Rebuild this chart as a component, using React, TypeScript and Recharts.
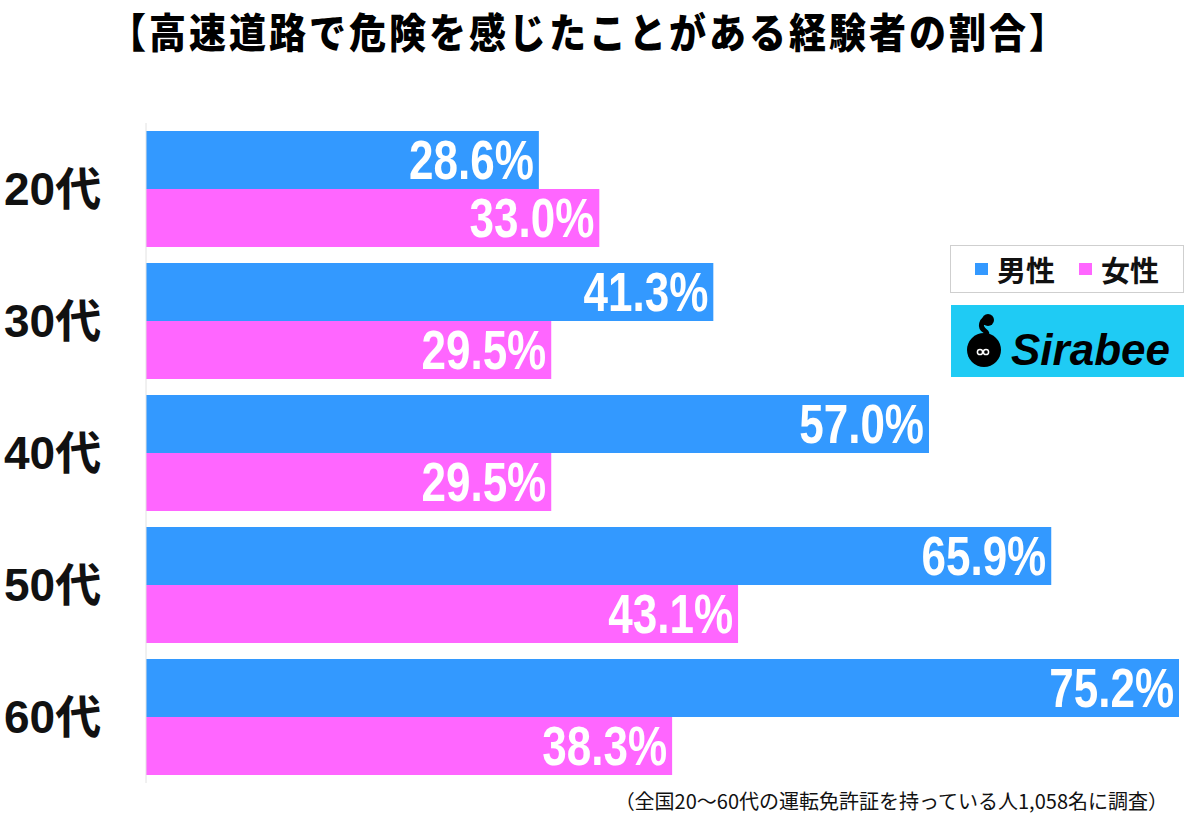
import { BarChart, Bar, XAxis, YAxis, LabelList } from 'recharts';

const AGE_GROUPS = ['20代', '30代', '40代', '50代', '60代'];
const MALE = [28.6, 41.3, 57.0, 65.9, 75.2];
const FEMALE = [33.0, 29.5, 29.5, 43.1, 38.3];
const SERIES_NAMES = ['男性', '女性'];

const TITLE = '【高速道路で危険を感じたことがある経験者の割合】';
const NOTE = '（全国20〜60代の運転免許証を持っている人1,058名に調査）';

const BLUE = '#3399FF';
const PINK = '#FF66FF';
const LOGO_BG = '#1FCBF4';
const SANS = '"Liberation Sans", "Noto Sans CJK JP", sans-serif';
const JP = '"Noto Sans CJK JP", sans-serif';

const data = AGE_GROUPS.map((name, i) => ({ name, male: MALE[i], female: FEMALE[i] }));

function ValueLabel(props: any) {
  const { x, y, width, height, value } = props;
  const cx = x + width - 5;
  const cy = y + height / 2;
  return (
    <text
      x={cx}
      y={cy}
      textAnchor="end"
      dominantBaseline="central"
      fill="#fff"
      fontFamily={SANS}
      fontWeight={700}
      fontSize={44}
      transform={`translate(0 ${cy}) scale(1 1.25) translate(0 ${-cy})`}
    >
      {Number(value).toFixed(1)}%
    </text>
  );
}

function AgeTick(props: any) {
  const { y, payload } = props;
  return (
    <text
      x={4}
      y={y}
      dominantBaseline="central"
      fill="#111"
      fontFamily={SANS}
      fontWeight={700}
      fontSize={46}
    >
      {payload.value}
    </text>
  );
}

function LegendBox() {
  const colors = [BLUE, PINK];
  return (
    <div
      style={{
        position: 'absolute',
        left: 950,
        top: 245,
        width: 232,
        height: 46,
        border: '1px solid #cfcfcf',
        display: 'flex',
        alignItems: 'center',
        justifyContent: 'center',
        gap: 24,
        background: '#fff',
      }}
    >
      {SERIES_NAMES.map((name, i) => (
        <div key={name} style={{ display: 'flex', alignItems: 'center', gap: 9 }}>
          <span style={{ width: 13, height: 12, background: colors[i], display: 'inline-block' }} />
          <span style={{ fontFamily: JP, fontWeight: 700, fontSize: 29, color: '#111', lineHeight: 1 }}>
            {name}
          </span>
        </div>
      ))}
    </div>
  );
}

export default function App() {
  return (
    <div style={{ position: 'relative', width: 1200, height: 819, background: '#fff', overflow: 'hidden' }}>
      <style>{'body{margin:0}'}</style>
      <div
        style={{
          position: 'absolute',
          left: 0,
          width: 1178,
          top: 0,
          height: 60,
          lineHeight: '60px',
          textAlign: 'center',
          fontFamily: JP,
          fontWeight: 900,
          fontSize: 37,
          letterSpacing: 3,
          color: '#000',
          transform: 'scaleY(1.1)',
          whiteSpace: 'nowrap',
        }}
      >
        {TITLE}
      </div>

      <BarChart
        width={1200}
        height={819}
        data={data}
        layout="vertical"
        margin={{ top: 123, right: 21, bottom: 36, left: 0 }}
        barGap={0}
        barCategoryGap={16}
      >
        <XAxis type="number" hide domain={[0, 75.2]} />
        <YAxis
          type="category"
          dataKey="name"
          width={146}
          axisLine={{ stroke: '#e2e2e2' }}
          tickLine={false}
          tick={<AgeTick />}
        />
        <Bar dataKey="male" name={SERIES_NAMES[0]} fill={BLUE} barSize={58} isAnimationActive={false}>
          <LabelList dataKey="male" content={<ValueLabel />} />
        </Bar>
        <Bar dataKey="female" name={SERIES_NAMES[1]} fill={PINK} barSize={58} isAnimationActive={false}>
          <LabelList dataKey="female" content={<ValueLabel />} />
        </Bar>
      </BarChart>

      <LegendBox />

      <div
        style={{
          position: 'absolute',
          left: 951,
          top: 305,
          width: 233,
          height: 72,
          background: LOGO_BG,
        }}
      >
        <svg width={233} height={72} style={{ position: 'absolute', left: 0, top: 0 }}>
          <path d="M37 14 C30 14 28 22 34 26 C40 30 30 34 26 38" fill="none" stroke="#000" strokeWidth={5} strokeLinecap="round" />
          <circle cx={37} cy={15} r={6} fill="#000" />
          <circle cx={33} cy={45} r={17} fill="#000" />
          <circle cx={29} cy={47} r={2.6} fill="none" stroke="#fff" strokeWidth={1.5} />
          <circle cx={35} cy={47} r={2.6} fill="none" stroke="#fff" strokeWidth={1.5} />
          <text
            x={60}
            y={60}
            fontFamily={SANS}
            fontWeight={700}
            fontStyle="italic"
            fontSize={44}
            fill="#000"
          >
            Sirabee
          </text>
        </svg>
      </div>

      <div
        style={{
          position: 'absolute',
          right: 32,
          top: 786,
          fontFamily: JP,
          fontSize: 20,
          color: '#111',
          whiteSpace: 'nowrap',
        }}
      >
        {NOTE}
      </div>
    </div>
  );
}
